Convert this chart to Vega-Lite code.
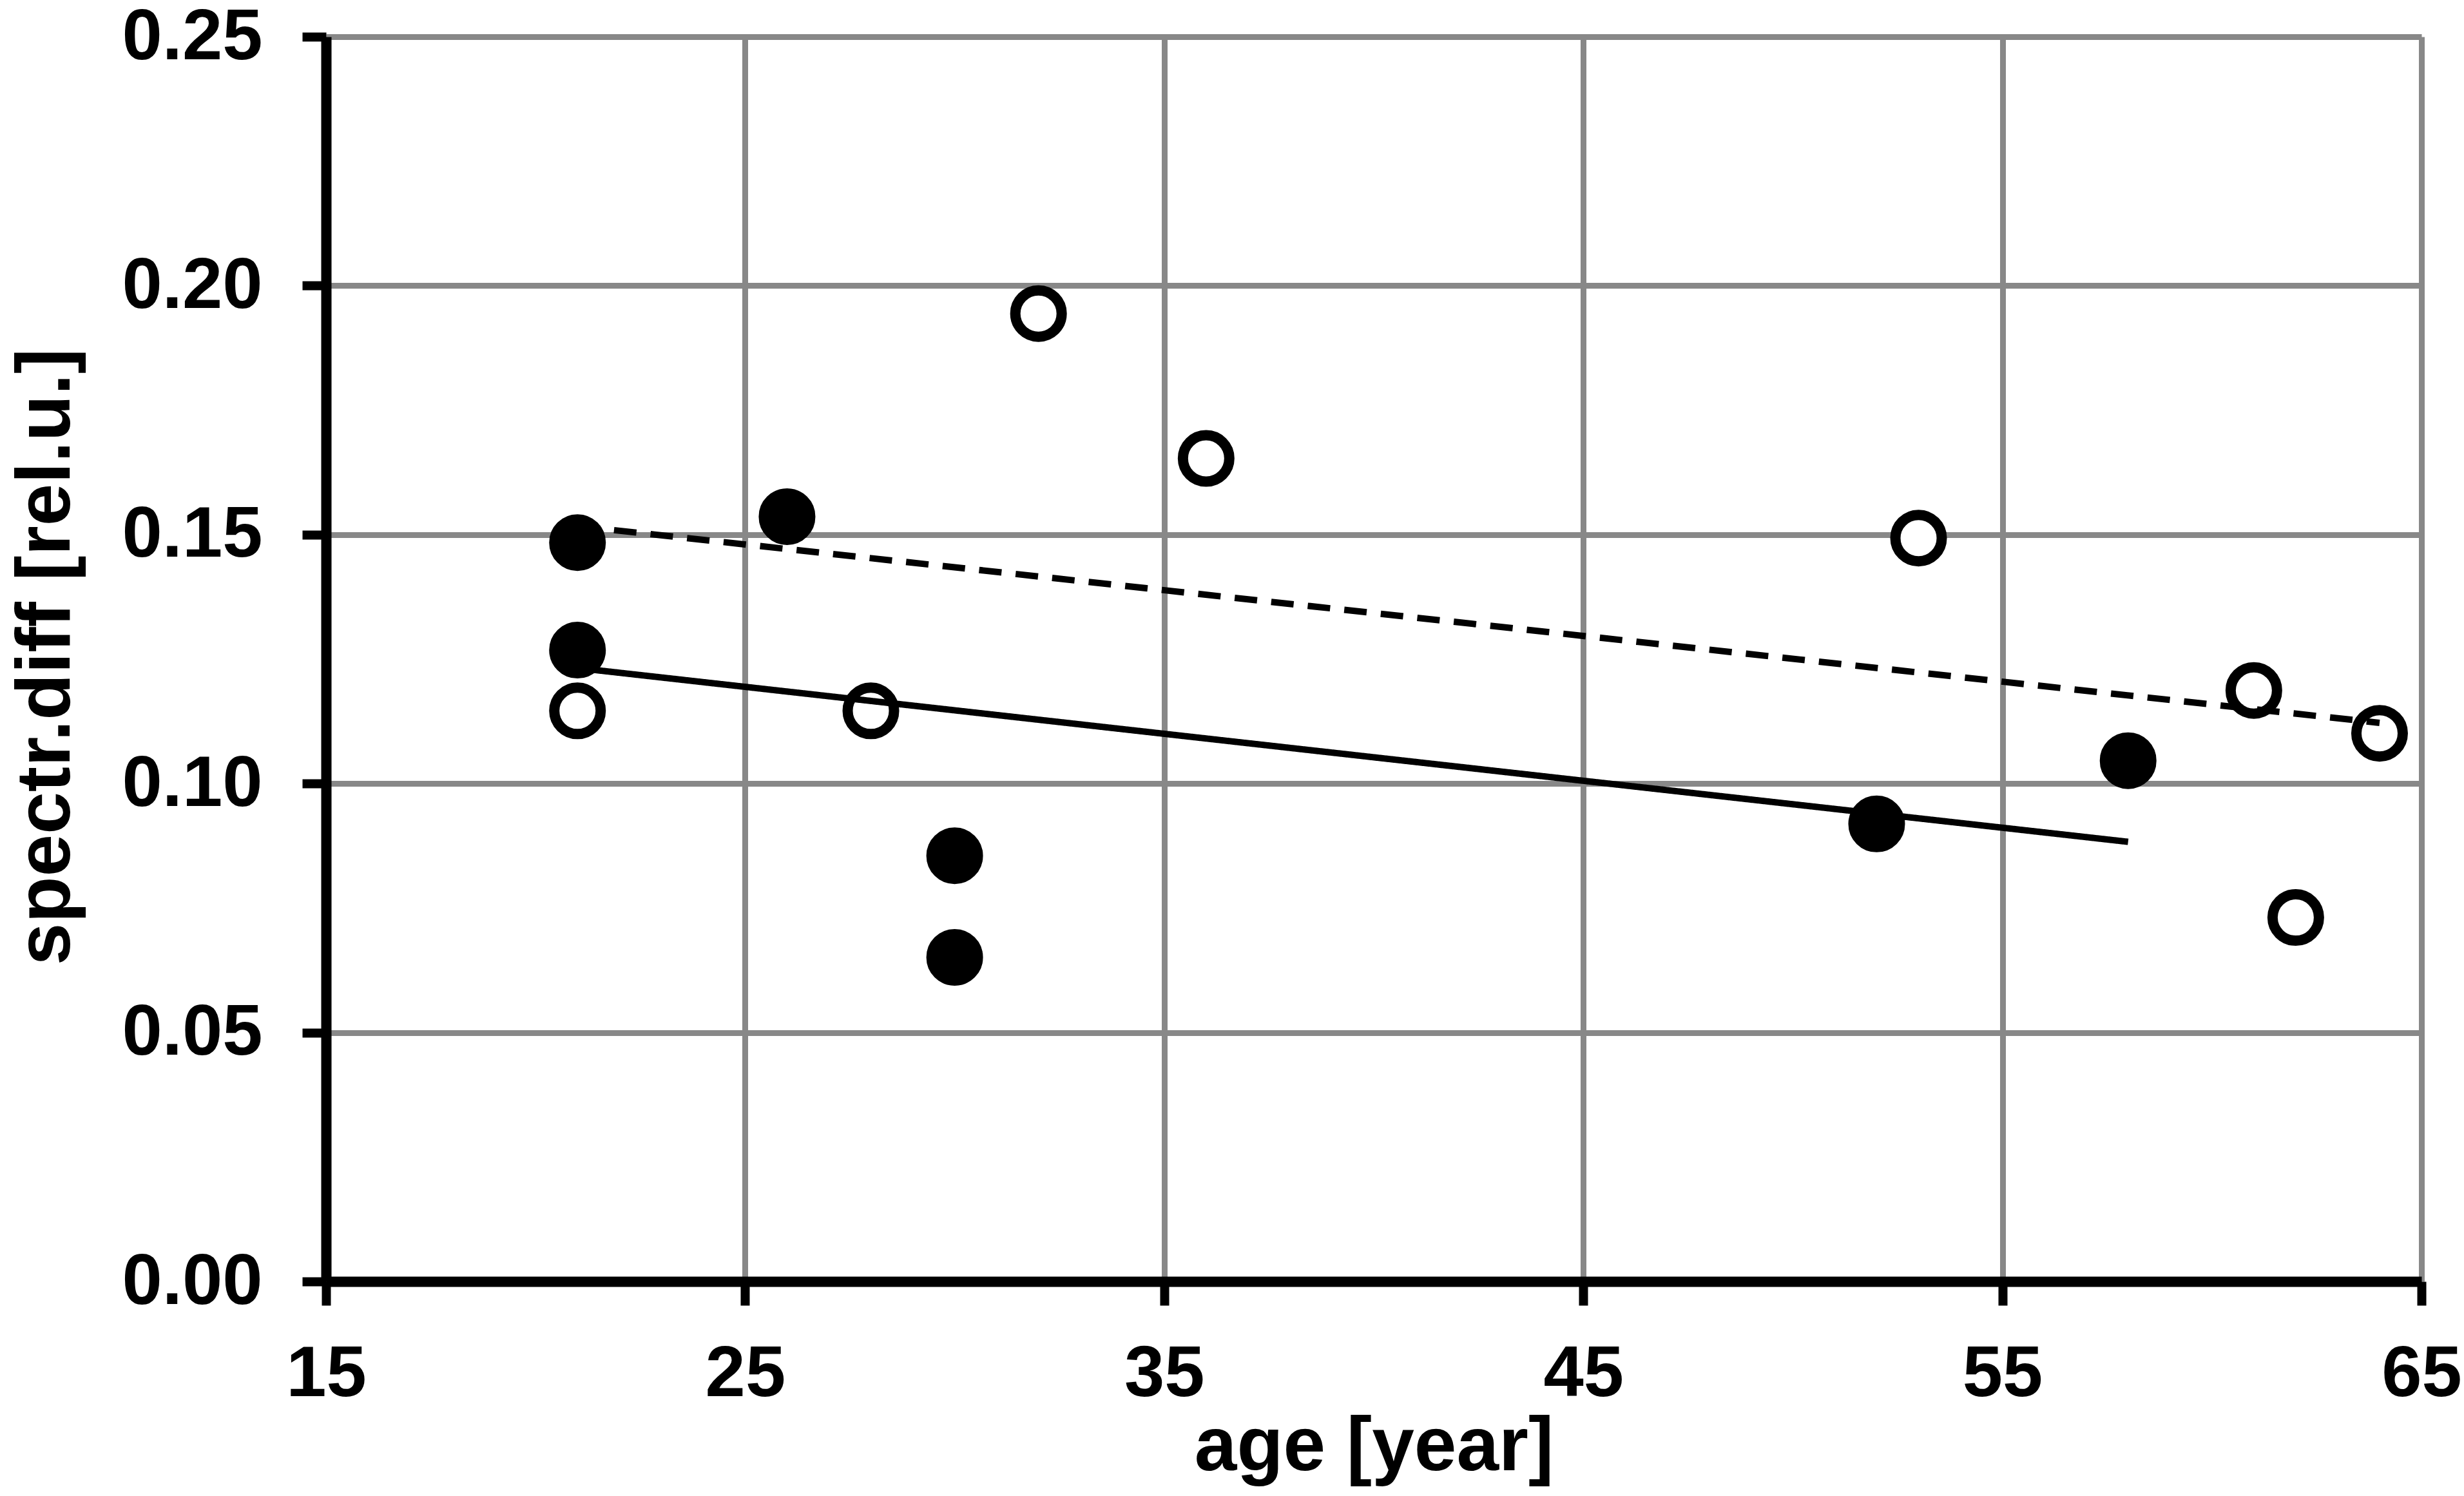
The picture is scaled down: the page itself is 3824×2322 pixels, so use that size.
{
  "$schema": "https://vega.github.io/schema/vega-lite/v6.json",
  "width": 3252,
  "height": 1932,
  "autosize": {"type": "none"},
  "padding": {"left": 506, "top": 57, "right": 66, "bottom": 333},
  "background": "white",
  "datasets": {
    "points": [
      {"age": 21, "diff": 0.1484, "group": "filled"},
      {"age": 21, "diff": 0.1268, "group": "filled"},
      {"age": 26, "diff": 0.1536, "group": "filled"},
      {"age": 30, "diff": 0.0855, "group": "filled"},
      {"age": 30, "diff": 0.0651, "group": "filled"},
      {"age": 52, "diff": 0.0919, "group": "filled"},
      {"age": 58, "diff": 0.1046, "group": "filled"},
      {"age": 21, "diff": 0.1146, "group": "open"},
      {"age": 28, "diff": 0.1146, "group": "open"},
      {"age": 32, "diff": 0.1944, "group": "open"},
      {"age": 36, "diff": 0.1653, "group": "open"},
      {"age": 53, "diff": 0.1493, "group": "open"},
      {"age": 61, "diff": 0.1187, "group": "open"},
      {"age": 62, "diff": 0.0731, "group": "open"},
      {"age": 64, "diff": 0.1101, "group": "open"}
    ],
    "trends": [
      {"age": 21, "fit": 0.1232, "group": "filled"},
      {"age": 58, "fit": 0.0883, "group": "filled"},
      {"age": 21, "fit": 0.1517, "group": "open"},
      {"age": 64, "fit": 0.1122, "group": "open"}
    ]
  },
  "encoding": {
    "x": {
      "field": "age", "type": "quantitative",
      "scale": {"domain": [15, 65], "nice": false, "zero": false},
      "axis": {"values": [15, 25, 35, 45, 55, 65], "title": "age [year]", "labelPadding": 52, "titlePadding": 0}
    }
  },
  "layer": [
    {
      "data": {"name": "points"},
      "mark": {"type": "circle", "size": 5184, "stroke": "black", "strokeWidth": 16, "opacity": 1},
      "encoding": {
        "y": {
          "field": "diff", "type": "quantitative",
          "scale": {"domain": [0, 0.25], "nice": false},
          "axis": {
            "values": [0, 0.05, 0.1, 0.15, 0.2, 0.25], "format": ".2f",
            "title": "spectr.diff [rel.u.]", "labelPadding": 62,
            "titleX": -374, "titleY": 962, "titleAngle": -90, "titleBaseline": "bottom", "titleAlign": "center"
          }
        },
        "fill": {
          "field": "group", "type": "nominal",
          "scale": {"domain": ["filled", "open"], "range": ["black", "white"]},
          "legend": null
        }
      }
    },
    {
      "data": {"name": "trends"},
      "mark": {"type": "line", "color": "black", "strokeWidth": 10},
      "encoding": {
        "y": {"field": "fit", "type": "quantitative"},
        "strokeDash": {
          "field": "group", "type": "nominal",
          "scale": {"domain": ["filled", "open"], "range": [[1, 0], [35, 22]]},
          "legend": null
        }
      }
    }
  ],
  "config": {
    "view": {"stroke": null},
    "axis": {
      "grid": true,
      "gridColor": "#888888",
      "gridWidth": 9,
      "domainColor": "black",
      "domainWidth": 16,
      "tickColor": "black",
      "tickWidth": 14,
      "tickSize": 37,
      "labelFont": "Liberation Sans",
      "labelFontWeight": "bold",
      "labelFontSize": 112,
      "labelColor": "black",
      "labelLimit": 0,
      "labelFlush": false,
      "labelOverlap": false,
      "titleFont": "Liberation Sans",
      "titleFontWeight": "bold",
      "titleFontSize": 118,
      "titleColor": "black"
    }
  }
}
